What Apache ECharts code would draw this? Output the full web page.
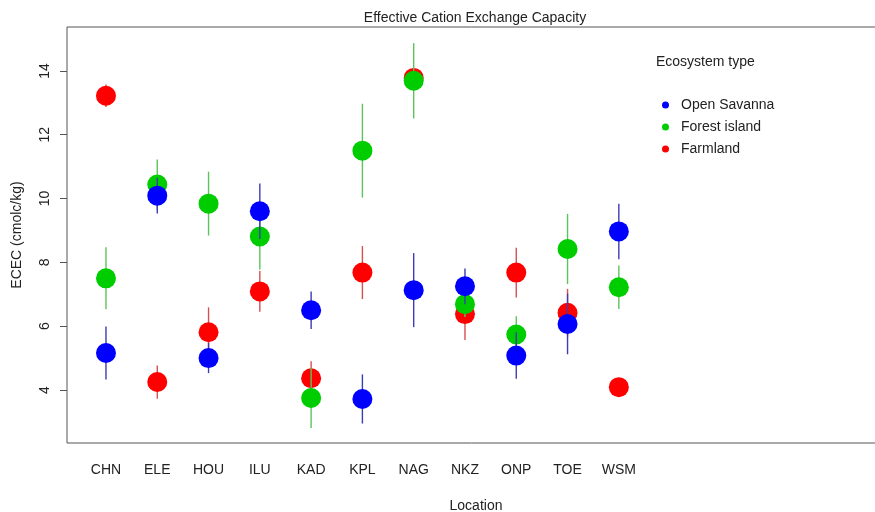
<!DOCTYPE html>
<html>
<head>
<meta charset="utf-8">
<script src="https://cdn.jsdelivr.net/npm/echarts@6/dist/echarts.min.js"></script>
<style>html,body{margin:0;padding:0;background:#fff}#c{width:875px;height:512px}</style>
</head>
<body>
<div id="c"></div>
<script>
var categories = ['CHN','ELE','HOU','ILU','KAD','KPL','NAG','NKZ','ONP','TOE','WSM'];
var seriesNames = ['Open Savanna','Forest island','Farmland'];
var savannaMean = [5.16,10.09,5.00,9.60,6.50,3.72,7.13,7.25,5.08,6.07,8.97];
var savannaErr  = [0.83,0.56,0.47,0.87,0.59,0.77,1.16,0.56,0.73,0.95,0.87];
var forestMean  = [7.50,10.44,9.84,8.81,3.75,11.50,13.69,6.69,5.74,8.42,7.22];
var forestErr   = [0.97,0.78,1.00,1.03,0.94,1.47,1.18,0.40,0.57,1.10,0.68];
var farmMean    = [13.22,4.25,5.81,7.09,4.37,7.68,13.78,6.38,7.68,6.42,4.09];
var farmErr     = [0.35,0.52,0.78,0.64,0.53,0.83,0.30,0.81,0.78,0.75,0.20];
var yTicks = [4,6,8,10,12,14];

var pointColors = ['#0000ff','#00cd00','#ff0000'];
var barColors = ['#3c3cb4','#5cc45c','#d45050'];

function pts(m){ return m.map(function(v,i){ return [i+1, v]; }); }
function bars(m,e){ return m.map(function(v,i){ return [i+1, v-e[i], v+e[i]]; }); }
function errSeries(name, data, color, z){
  return {
    type:'custom', name:name, z:z, silent:true,
    encode:{x:0, y:[1,2]},
    data:data,
    renderItem:function(params, api){
      var x = api.value(0);
      var p1 = api.coord([x, api.value(1)]);
      var p2 = api.coord([x, api.value(2)]);
      return {type:'line', shape:{x1:p1[0],y1:p1[1],x2:p2[0],y2:p2[1]},
              style:{stroke:color, lineWidth:1.4}};
    }
  };
}
function ptSeries(name, data, color, z){
  return {type:'scatter', name:name, z:z, data:data, symbol:'circle', symbolSize:20,
          itemStyle:{color:color, opacity:1}, emphasis:{disabled:true}};
}

var chart = echarts.init(document.getElementById('c'), null, {renderer:'canvas'});
chart.setOption({
  animation:false,
  backgroundColor:'#ffffff',
  textStyle:{fontFamily:'Liberation Sans, Arial, sans-serif'},
  grid:{left:67, top:27, width:818, height:416, outerBoundsMode:'none', containLabel:false,
        show:true, borderColor:'#555', borderWidth:1, backgroundColor:'transparent'},
  graphic:[
    {type:'text', x:475, y:11, style:{text:'Effective Cation Exchange Capacity', fill:'#222', font:'14px Liberation Sans, Arial, sans-serif', textAlign:'center'}},
    {type:'text', x:656, y:55, style:{text:'Ecosystem type', fill:'#222', font:'14px Liberation Sans, Arial, sans-serif'}}
  ],
  legend:{
    orient:'vertical', left:657, top:93, itemWidth:7, itemHeight:7, itemGap:8, icon:'circle',
    data:seriesNames, selectedMode:false,
    textStyle:{fontSize:14, color:'#222', padding:[0,0,0,7], fontFamily:'Liberation Sans, Arial, sans-serif'}
  },
  xAxis:{
    type:'value', min:0.24, max:16.19,
    name:'Location', nameLocation:'middle', nameGap:56,
    nameTextStyle:{fontSize:14, color:'#222'},
    axisLine:{show:false}, axisTick:{show:false}, splitLine:{show:false},
    axisLabel:{customValues:[1,2,3,4,5,6,7,8,9,10,11], margin:20, fontSize:14, color:'#222',
      formatter:function(v){ return categories[Math.round(v)-1] || ''; }}
  },
  yAxis:{
    type:'value', min:2.34, max:15.375,
    name:'ECEC (cmolc/kg)', nameLocation:'middle', nameGap:43,
    nameTextStyle:{fontSize:14, color:'#222'},
    axisLine:{show:false}, splitLine:{show:false},
    axisTick:{show:true, customValues:yTicks, length:7, lineStyle:{color:'#555'}},
    axisLabel:{customValues:yTicks, rotate:90, margin:15, fontSize:14, color:'#222'}
  },
  series:[
    errSeries('fe', bars(farmMean, farmErr), barColors[2], 1),
    ptSeries(seriesNames[2], pts(farmMean), pointColors[2], 2),
    errSeries('ge', bars(forestMean, forestErr), barColors[1], 3),
    ptSeries(seriesNames[1], pts(forestMean), pointColors[1], 4),
    errSeries('be', bars(savannaMean, savannaErr), barColors[0], 5),
    ptSeries(seriesNames[0], pts(savannaMean), pointColors[0], 6)
  ]
});
</script>
</body>
</html>
